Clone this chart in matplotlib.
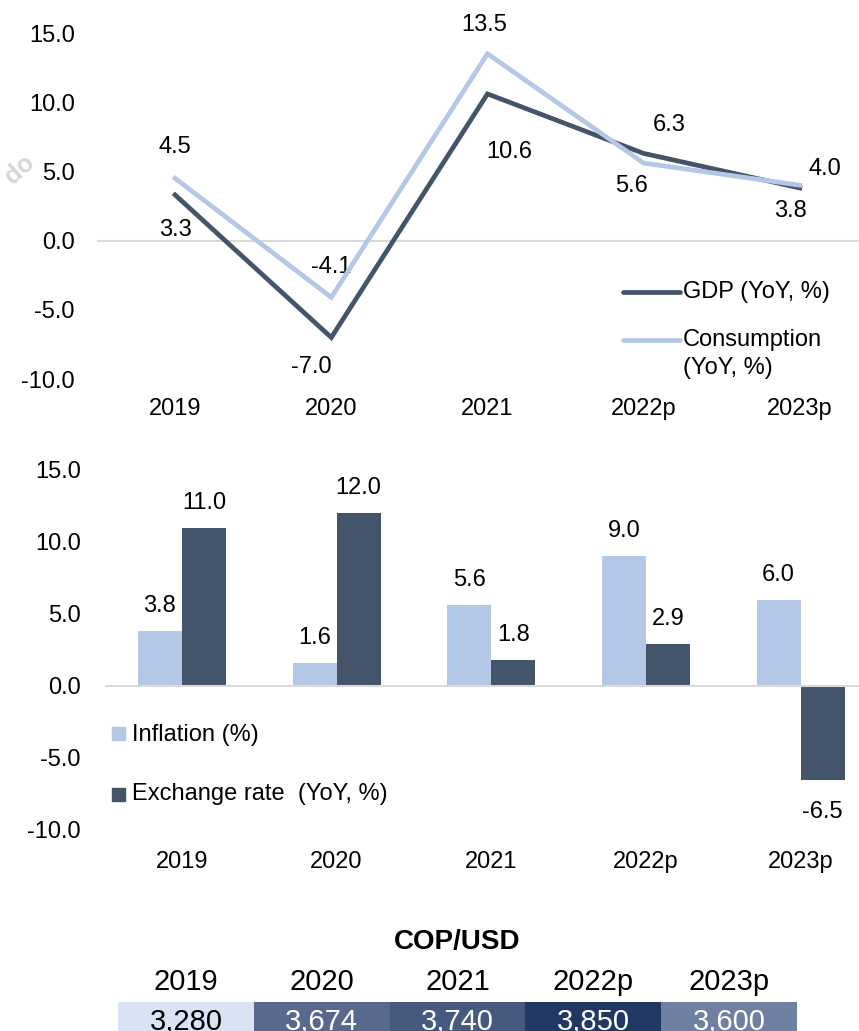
import matplotlib
matplotlib.use("Agg")
import matplotlib.pyplot as plt
from matplotlib.lines import Line2D
from matplotlib.patches import Rectangle
import numpy as np

plt.rcParams['font.family'] = ['Liberation Sans', 'DejaVu Sans']

# DATA
years = ["2019", "2020", "2021", "2022p", "2023p"]
gdp = [3.3, -7.0, 10.6, 6.3, 3.8]
consumption = [4.5, -4.1, 13.5, 5.6, 4.0]
inflation = [3.8, 1.6, 5.6, 9.0, 6.0]
fx_rate = [11.0, 12.0, 1.8, 2.9, -6.5]
cop_usd = [3280, 3674, 3740, 3850, 3600]
cop_colors = ["#DAE3F3", "#58698D", "#46597E", "#213863", "#7080A1"]
cop_text = ["black", "white", "white", "white", "white"]

DARK = "#44546A"
LIGHT = "#B4C7E7"
FS = 17

W, H = 859, 1031
fig = plt.figure(figsize=(W / 100, H / 100), dpi=100)


def fx(px):
    return px / W


def fy(py):
    return 1 - py / H


x = np.arange(len(years))

# ---- top chart: GDP and consumption lines
ax1 = fig.add_axes([fx(97), fy(379), fx(878 - 97), (379 - 33) / H])
ax1.axhline(0, color="#D9D9D9", lw=1.5, zorder=1)
ax1.plot(x, gdp, color=DARK, lw=3.4, solid_joinstyle="miter", zorder=3)
ax1.plot(x, consumption, color=LIGHT, lw=3.4, solid_joinstyle="miter", zorder=4)

gdp_off = [(0, -35), (-20, -30), (22, -58), (25, 28), (-9, -23)]
cons_off = [(0, 31), (0, 30), (-3, 29), (-12, -23), (25, 16)]
for i in range(len(years)):
    ax1.annotate(f"{gdp[i]:.1f}", (x[i], gdp[i]), xytext=gdp_off[i],
                 textcoords="offset pixels", ha="center", va="center", fontsize=FS)
    ax1.annotate(f"{consumption[i]:.1f}", (x[i], consumption[i]), xytext=cons_off[i],
                 textcoords="offset pixels", ha="center", va="center", fontsize=FS)

ax1.set_xlim(-0.5, 4.5)
ax1.set_ylim(-10, 15)
ax1.set_yticks([-10, -5, 0, 5, 10, 15])
ax1.set_yticklabels([f"{v:.1f}" for v in [-10, -5, 0, 5, 10, 15]])
ax1.set_xticks(x)
ax1.set_xticklabels(years)
ax1.tick_params(axis="y", length=0, pad=16, labelsize=FS)
ax1.tick_params(axis="x", length=0, pad=14, labelsize=FS)
for s in ax1.spines.values():
    s.set_visible(False)

# legend for top chart
fig.add_artist(Line2D([fx(623), fx(680)], [fy(292), fy(292)], color=DARK, lw=3.4,
                      solid_capstyle="round", transform=fig.transFigure))
fig.text(fx(683), fy(292), "GDP (YoY, %)", fontsize=FS, va="center", ha="left")
fig.add_artist(Line2D([fx(623), fx(680)], [fy(340), fy(340)], color=LIGHT, lw=3.4,
                      solid_capstyle="round", transform=fig.transFigure))
fig.text(fx(683), fy(340), "Consumption", fontsize=FS, va="center", ha="left")
fig.text(fx(683), fy(368), "(YoY, %)", fontsize=FS, va="center", ha="left")

# ---- bottom chart: inflation and exchange rate bars
ax2 = fig.add_axes([fx(104.6), fy(830), fx(878 - 104.6), (830 - 470) / H])
bw = 0.285
ax2.bar(x - bw / 2, inflation, width=bw, color=LIGHT, zorder=2)
ax2.bar(x + bw / 2, fx_rate, width=bw, color=DARK, zorder=2)
ax2.axhline(0, color="#D9D9D9", lw=1.5, zorder=3)

for i in range(len(years)):
    for xp, v in [(x[i] - bw / 2, inflation[i]), (x[i] + bw / 2, fx_rate[i])]:
        dy = 25 if v >= 0 else -32
        ax2.annotate(f"{v:.1f}", (xp, v), xytext=(0, dy), textcoords="offset pixels",
                     ha="center", va="center", fontsize=FS)

ax2.set_xlim(-0.5, 4.5)
ax2.set_ylim(-10, 15)
ax2.set_yticks([-10, -5, 0, 5, 10, 15])
ax2.set_yticklabels([f"{v:.1f}" for v in [-10, -5, 0, 5, 10, 15]])
ax2.set_xticks(x)
ax2.set_xticklabels(years)
ax2.tick_params(axis="y", length=0, pad=17, labelsize=FS)
ax2.tick_params(axis="x", length=0, pad=15, labelsize=FS)
for s in ax2.spines.values():
    s.set_visible(False)

# legend for bottom chart
fig.add_artist(Rectangle((fx(112), fy(740)), 13 / W, 13 / H, color=LIGHT,
                         transform=fig.transFigure))
fig.text(fx(132), fy(735), "Inflation (%)", fontsize=FS, va="center", ha="left")
fig.add_artist(Rectangle((fx(112), fy(801)), 13 / W, 13 / H, color=DARK,
                         transform=fig.transFigure))
fig.text(fx(132), fy(794), "Exchange rate  (YoY, %)", fontsize=FS, va="center", ha="left")

# ---- COP/USD table
fig.text(fx(457), fy(942), "COP/USD", fontsize=20, fontweight="bold", ha="center", va="center")
tax = fig.add_axes([fx(118), fy(1042), fx(797 - 118), (1042 - 962) / H])
tax.axis("off")
tab = tax.table(cellText=[years, [f"{v:,}" for v in cop_usd]],
                cellColours=[["white"] * 5, cop_colors],
                cellLoc="center", bbox=[0, 0, 1, 1])
tab.auto_set_font_size(False)
for (r, c), cell in tab.get_celld().items():
    cell.set_linewidth(0)
    cell.set_edgecolor(cell.get_facecolor())
    col = "black" if r == 0 else cop_text[c]
    cell.set_text_props(fontsize=21, color=col)

# faint watermark fragment at left edge
fig.text(fx(20), fy(170), "do", fontsize=18, fontweight="bold", color="#D6D6D6",
         rotation=42, ha="center", va="center")

fig.savefig("out.png", dpi=100)
